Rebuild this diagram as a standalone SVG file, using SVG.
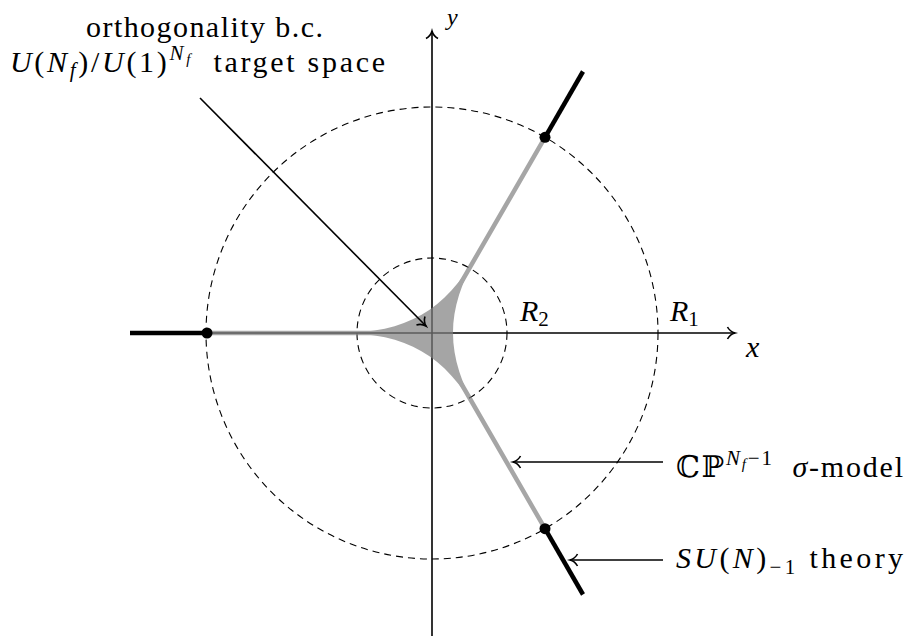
<svg xmlns="http://www.w3.org/2000/svg" width="904" height="641" viewBox="0 0 904 641">
<style>
text{font-family:"Liberation Serif","DejaVu Serif","Noto Serif","Times New Roman",serif;font-size:30px;fill:#000}
.i{font-style:italic}
.axis{stroke:#000;stroke-width:1.6;fill:none}
.dash{stroke:#000;stroke-width:1.1;fill:none;stroke-dasharray:7 5}
.thick{stroke:#000;stroke-width:4.5;fill:none}
.ann{stroke:#000;stroke-width:1.6;fill:none}
</style>
<defs>
<marker id="ah" markerUnits="userSpaceOnUse" markerWidth="20" markerHeight="20" viewBox="-10 -10 20 20" refX="0" refY="0" orient="auto" overflow="visible">
<path d="M-7.5,-6 C-5.5,-2.2 -2.2,-0.6 0,0 C-2.2,0.6 -5.5,2.2 -7.5,6" fill="none" stroke="#000" stroke-width="1.6"/>
</marker>
</defs>
<g id="circles">
<circle class="dash" cx="432" cy="333" r="226"/>
<circle class="dash" cx="432" cy="333" r="75"/>
</g>
<g id="axes">
<line class="axis" x1="130" y1="333" x2="735" y2="333" marker-end="url(#ah)"/>
<line class="axis" x1="432" y1="636" x2="432" y2="31" marker-end="url(#ah)"/>
<text class="i" x="746" y="357">x</text>
<text class="i" x="447" y="25" style="font-size:24px">y</text>
<text x="520" y="321"><tspan class="i">R</tspan><tspan style="font-size:21px" dy="5">2</tspan></text>
<text x="670" y="321"><tspan class="i">R</tspan><tspan style="font-size:21px" dy="5">1</tspan></text>
</g>
<g id="moduli" opacity="0.7">
<path d="M340,333 C406.7,333 444.65,311.06 478,253.3 C444.65,311.06 444.65,354.94 478,412.7 C444.65,354.94 406.7,333 340,333 Z" fill="#808080"/>
<path d="M207,333 L432,333 L545,137.3 M432,333 L545,528.7" stroke="#808080" stroke-width="4.5" fill="none" stroke-linejoin="round"/>
</g>
<g id="theory-lines">
<line class="thick" x1="130" y1="333" x2="207" y2="333"/>
<line class="thick" x1="545" y1="137.3" x2="583" y2="71.5"/>
<line class="thick" x1="545" y1="528.7" x2="583" y2="594.5"/>
<circle cx="207" cy="333" r="5.5"/>
<circle cx="545" cy="137.3" r="5.5"/>
<circle cx="545" cy="528.7" r="5.5"/>
</g>
<g id="connectors">
<line class="ann" x1="200" y1="98" x2="426" y2="326" marker-end="url(#ah)"/>
<line class="ann" x1="663" y1="462" x2="513" y2="462" marker-end="url(#ah)"/>
<line class="ann" x1="663" y1="560" x2="570" y2="560" marker-end="url(#ah)"/>
</g>
<g id="label-orth">
<text x="86" y="37" textLength="237" lengthAdjust="spacing">orthogonality b.c.</text>
<text x="10" y="72" textLength="375" lengthAdjust="spacing"><tspan class="i">U</tspan>(<tspan class="i">N</tspan><tspan class="i" style="font-size:21px" dy="5">f</tspan><tspan dy="-5">)/</tspan><tspan class="i">U</tspan>(1)<tspan class="i" style="font-size:21px" dy="-12">N</tspan><tspan class="i" style="font-size:15px" dy="4">f</tspan><tspan dy="8">&#160; target space</tspan></text>
</g>
<g id="label-cp">
<text x="676" y="477" textLength="227" lengthAdjust="spacing">ℂℙ<tspan class="i" style="font-size:21px" dy="-12">N</tspan><tspan class="i" style="font-size:15px" dy="4">f</tspan><tspan style="font-size:21px" dy="-4">−1</tspan><tspan dy="12">&#160; </tspan><tspan class="i">σ</tspan>-model</text>
</g>
<g id="label-su">
<text x="676" y="568" textLength="227" lengthAdjust="spacing"><tspan class="i">SU</tspan>(<tspan class="i">N</tspan>)<tspan style="font-size:21px" dy="6">−1</tspan><tspan dy="-6"> theory</tspan></text>
</g>
</svg>
